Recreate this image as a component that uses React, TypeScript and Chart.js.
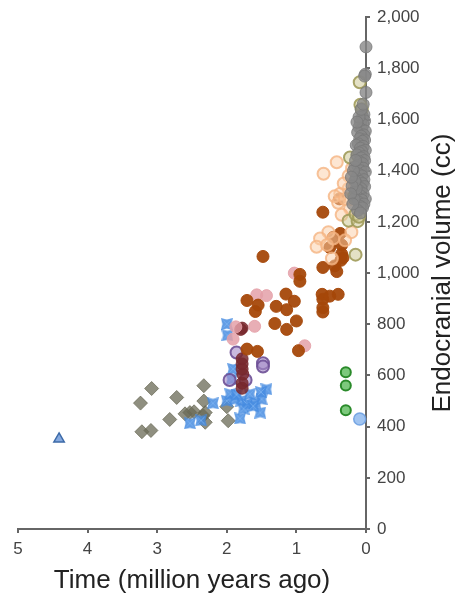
import React, { useEffect, useRef } from 'react';
import { Chart, registerables } from 'chart.js';
Chart.register(...registerables);

// [time (Mya), endocranial volume (cc)]
const ardipithecus: [number, number][] = [[4.41, 352]];
const australopithecus: [number, number][] = [
  [3.24, 492], [3.08, 549], [2.72, 514], [2.33, 560], [2.33, 500], [2.82, 428], [2.53, 455], [2.6, 450],
  [2.47, 458], [3.22, 380], [3.09, 385], [2.31, 455], [2.31, 417], [1.98, 423], [2.0, 478], [2.34, 443],
];
const earlyHomo: [number, number][] = [
  [2.0, 801], [1.99, 757], [1.91, 625], [1.93, 585], [2.2, 491], [2.53, 413], [2.37, 424], [2.0, 501],
  [1.88, 507], [1.79, 501], [1.71, 488], [1.59, 494], [1.5, 507], [1.43, 546], [1.51, 535], [1.81, 432],
  [1.52, 455], [1.95, 527], [1.67, 527], [1.86, 525], [1.76, 470], [1.62, 480],
];
const purpleGroup: [number, number][] = [[1.86, 690], [1.96, 582], [1.73, 582], [1.48, 648], [1.48, 635]];
const maroonGroup: [number, number][] = [
  [1.78, 785], [1.78, 665], [1.78, 645], [1.78, 625], [1.77, 605], [1.78, 570], [1.78, 550], [1.8, 780],
];
const pinkGroup: [number, number][] = [
  [1.03, 1000], [1.57, 915], [1.43, 912], [1.6, 792], [0.88, 716], [1.91, 742], [1.87, 790],
];
const brownGroup: [number, number][] = [
  [1.48, 1065], [0.95, 995], [0.95, 968], [1.71, 893], [1.59, 850], [1.55, 875], [1.15, 918], [1.03, 890],
  [1.29, 870], [1.14, 857], [1.31, 803], [1.14, 780], [1.0, 813], [1.71, 703], [1.56, 694], [0.97, 697],
  [0.62, 1022], [0.45, 1028], [0.42, 1006], [0.63, 917], [0.62, 898], [0.62, 865], [0.62, 848], [0.52, 910],
  [0.4, 917], [0.62, 1238], [0.47, 1140], [0.37, 1155], [0.35, 1110], [0.35, 1075], [0.52, 1100], [0.38, 1290],
  [0.36, 1050], [0.33, 1060],
];
const peachGroup: [number, number][] = [
  [0.42, 1433], [0.61, 1388], [0.25, 1380], [0.37, 1310], [0.25, 1330], [0.22, 1290], [0.23, 1252], [0.35, 1228],
  [0.45, 1300], [0.54, 1160], [0.21, 1160], [0.66, 1135], [0.47, 1135], [0.3, 1128], [0.71, 1103], [0.49, 1057],
  [0.56, 1110], [0.4, 1275], [0.3, 1290], [0.32, 1350], [0.2, 1410],
];
const oliveGroup: [number, number][] = [
  [0.09, 1746], [0.08, 1658], [0.23, 1452], [0.25, 1205], [0.12, 1203], [0.15, 1072], [0.15, 1230], [0.1, 1220],
  [0.17, 1300], [0.12, 1460], [0.06, 1640],
];
const grayGroup: [number, number][] = [
  [0.0, 1884], [0.01, 1777], [0.02, 1770], [0.0, 1706], [0.03, 1620], [0.05, 1610], [0.02, 1595], [0.08, 1590],
  [0.04, 1580], [0.1, 1570], [0.06, 1560], [0.01, 1555], [0.12, 1550], [0.03, 1540], [0.07, 1535], [0.09, 1525],
  [0.02, 1520], [0.05, 1515], [0.11, 1505], [0.14, 1500], [0.04, 1495], [0.08, 1488], [0.01, 1480], [0.06, 1475],
  [0.1, 1470], [0.13, 1462], [0.03, 1455], [0.07, 1450], [0.02, 1440], [0.09, 1435], [0.05, 1428], [0.12, 1420],
  [0.16, 1415], [0.04, 1410], [0.08, 1400], [0.01, 1395], [0.11, 1388], [0.06, 1380], [0.14, 1372], [0.03, 1365],
  [0.09, 1358], [0.05, 1350], [0.12, 1345], [0.02, 1338], [0.07, 1330], [0.1, 1322], [0.15, 1318], [0.04, 1310],
  [0.08, 1302], [0.13, 1298], [0.01, 1290], [0.06, 1285], [0.11, 1278], [0.03, 1270], [0.09, 1262], [0.17, 1290],
  [0.05, 1255], [0.12, 1245], [0.08, 1235], [0.14, 1330], [0.16, 1360], [0.18, 1400], [0.15, 1440], [0.1, 1610],
  [0.07, 1640], [0.04, 1660], [0.13, 1590], [0.2, 1340], [0.22, 1310], [0.19, 1270], [0.21, 1375],
];
const nalediGroup: [number, number][] = [[0.29, 613], [0.29, 561], [0.29, 464]];
const floresGroup: [number, number][] = [[0.09, 430]];

const xTicks = [0, 1, 2, 3, 4, 5];
const yTicks = [0, 200, 400, 600, 800, 1000, 1200, 1400, 1600, 1800, 2000];
const xTitle = 'Time (million years ago)';
const yTitle = 'Endocranial volume (cc)';

const FONT = '"Liberation Sans", Arial, Helvetica, sans-serif';

const toPts = (a: [number, number][]) => a.map(([x, y]) => ({ x, y }));

function makeCrossSquare(): HTMLCanvasElement {
  const s = 12;
  const c = document.createElement('canvas');
  c.width = s;
  c.height = s;
  const g = c.getContext('2d')!;
  const d = 1.6;
  g.beginPath();
  g.moveTo(0, 0);
  g.lineTo(s / 2, d);
  g.lineTo(s, 0);
  g.lineTo(s - d, s / 2);
  g.lineTo(s, s);
  g.lineTo(s / 2, s - d);
  g.lineTo(0, s);
  g.lineTo(d, s / 2);
  g.closePath();
  g.fillStyle = 'rgba(70,140,225,0.85)';
  g.fill();
  g.strokeStyle = 'rgba(120,175,240,0.9)';
  g.lineWidth = 1;
  g.beginPath();
  g.moveTo(2.5, 2.5);
  g.lineTo(s - 2.5, s - 2.5);
  g.moveTo(s - 2.5, 2.5);
  g.lineTo(2.5, s - 2.5);
  g.stroke();
  return c;
}

const yTitlePlugin = {
  id: 'yTitleLeftReading',
  afterDraw(chart: any) {
    const { ctx, chartArea } = chart;
    ctx.save();
    ctx.translate(443, (chartArea.top + chartArea.bottom) / 2);
    ctx.rotate(-Math.PI / 2);
    ctx.font = `26px ${FONT}`;
    ctx.fillStyle = '#222';
    ctx.textAlign = 'center';
    ctx.textBaseline = 'middle';
    ctx.fillText(yTitle, 0, 0);
    ctx.restore();
  },
};

export default function App() {
  const ref = useRef<HTMLCanvasElement | null>(null);
  useEffect(() => {
    if (!ref.current) return;
    const cross = makeCrossSquare();
    const circ = (data: [number, number][], bg: string, border: string, bw = 1, r = 6) => ({
      data: toPts(data),
      pointStyle: 'circle',
      backgroundColor: bg,
      borderColor: border,
      borderWidth: bw,
      pointRadius: r,
      clip: false,
    });
    const chart = new Chart(ref.current, {
      type: 'scatter',
      data: {
        datasets: [
          circ(nalediGroup, 'rgba(110,195,110,0.9)', '#2a8a2a', 2, 5),
          circ(floresGroup, 'rgba(150,190,240,0.9)', 'rgba(110,160,225,0.9)', 1.5, 6),
          circ(grayGroup, 'rgba(135,135,135,0.8)', 'rgba(120,120,120,0.8)', 1, 6),
          circ(oliveGroup, 'rgba(205,200,150,0.55)', 'rgba(160,155,90,0.9)', 2, 6),
          circ(peachGroup, 'rgba(252,205,165,0.5)', 'rgba(245,180,130,0.8)', 2, 6),
          circ(brownGroup, 'rgba(165,72,10,0.95)', 'rgba(165,72,10,0.95)', 1, 6),
          circ(pinkGroup, 'rgba(228,160,168,0.85)', 'rgba(228,160,168,0.85)', 1, 6),
          circ(maroonGroup, 'rgba(120,40,45,0.85)', 'rgba(120,40,45,0.85)', 1, 6),
          circ(purpleGroup, 'rgba(165,140,200,0.6)', 'rgba(110,80,150,0.9)', 2, 6),
          {
            data: toPts(earlyHomo),
            pointStyle: cross,
            backgroundColor: 'rgba(70,140,225,0.85)',
            borderColor: 'rgba(70,140,225,0.85)',
            pointRadius: 6,
            clip: false,
          },
          {
            data: toPts(australopithecus),
            pointStyle: 'rectRot',
            backgroundColor: 'rgba(105,105,85,0.75)',
            borderColor: 'rgba(105,105,85,0.75)',
            borderWidth: 1,
            pointRadius: 7,
            clip: false,
          },
          {
            data: toPts(ardipithecus),
            pointStyle: 'triangle',
            backgroundColor: 'rgba(120,160,220,0.9)',
            borderColor: '#3c6aa8',
            borderWidth: 1.5,
            pointRadius: 6,
            clip: false,
          },
        ] as any,
      },
      options: {
        responsive: false,
        animation: false,
        events: [],
        layout: { padding: { left: 18, top: 14, right: 0, bottom: 0 } },
        plugins: { legend: { display: false }, tooltip: { enabled: false } },
        scales: {
          x: {
            type: 'linear',
            reverse: true,
            min: 0,
            max: 5,
            afterFit: (s: any) => {
              s.height = 69;
            },
            afterBuildTicks: (s: any) => {
              s.ticks = xTicks.map((v) => ({ value: v }));
            },
            ticks: {
              font: { family: FONT, size: 17 },
              color: '#444',
              padding: 6,
              maxRotation: 0,
            },
            grid: { drawOnChartArea: false, drawTicks: true, tickLength: 4, color: '#666', lineWidth: 2 },
            border: { display: true, color: '#666', width: 2 },
            title: {
              display: true,
              text: xTitle,
              font: { family: FONT, size: 26 },
              color: '#222',
              padding: { top: 0, bottom: 2 },
            },
          },
          y: {
            type: 'linear',
            position: 'right',
            min: 0,
            max: 2000,
            afterFit: (s: any) => {
              s.width = 91;
            },
            afterBuildTicks: (s: any) => {
              s.ticks = yTicks.map((v) => ({ value: v }));
            },
            ticks: {
              font: { family: FONT, size: 17 },
              color: '#444',
              padding: 7,
              callback: (v: any) => Number(v).toLocaleString('en-US'),
            },
            grid: { drawOnChartArea: false, drawTicks: true, tickLength: 4, color: '#666', lineWidth: 2 },
            border: { display: true, color: '#666', width: 2 },
          },
        },
      } as any,
      plugins: [yTitlePlugin],
    });
    return () => chart.destroy();
  }, []);
  return (
    <div style={{ position: 'fixed', left: 0, top: 0, width: 457, height: 598, background: '#fff' }}>
      <canvas ref={ref} width={457} height={598} style={{ width: 457, height: 598, display: 'block' }} />
    </div>
  );
}
